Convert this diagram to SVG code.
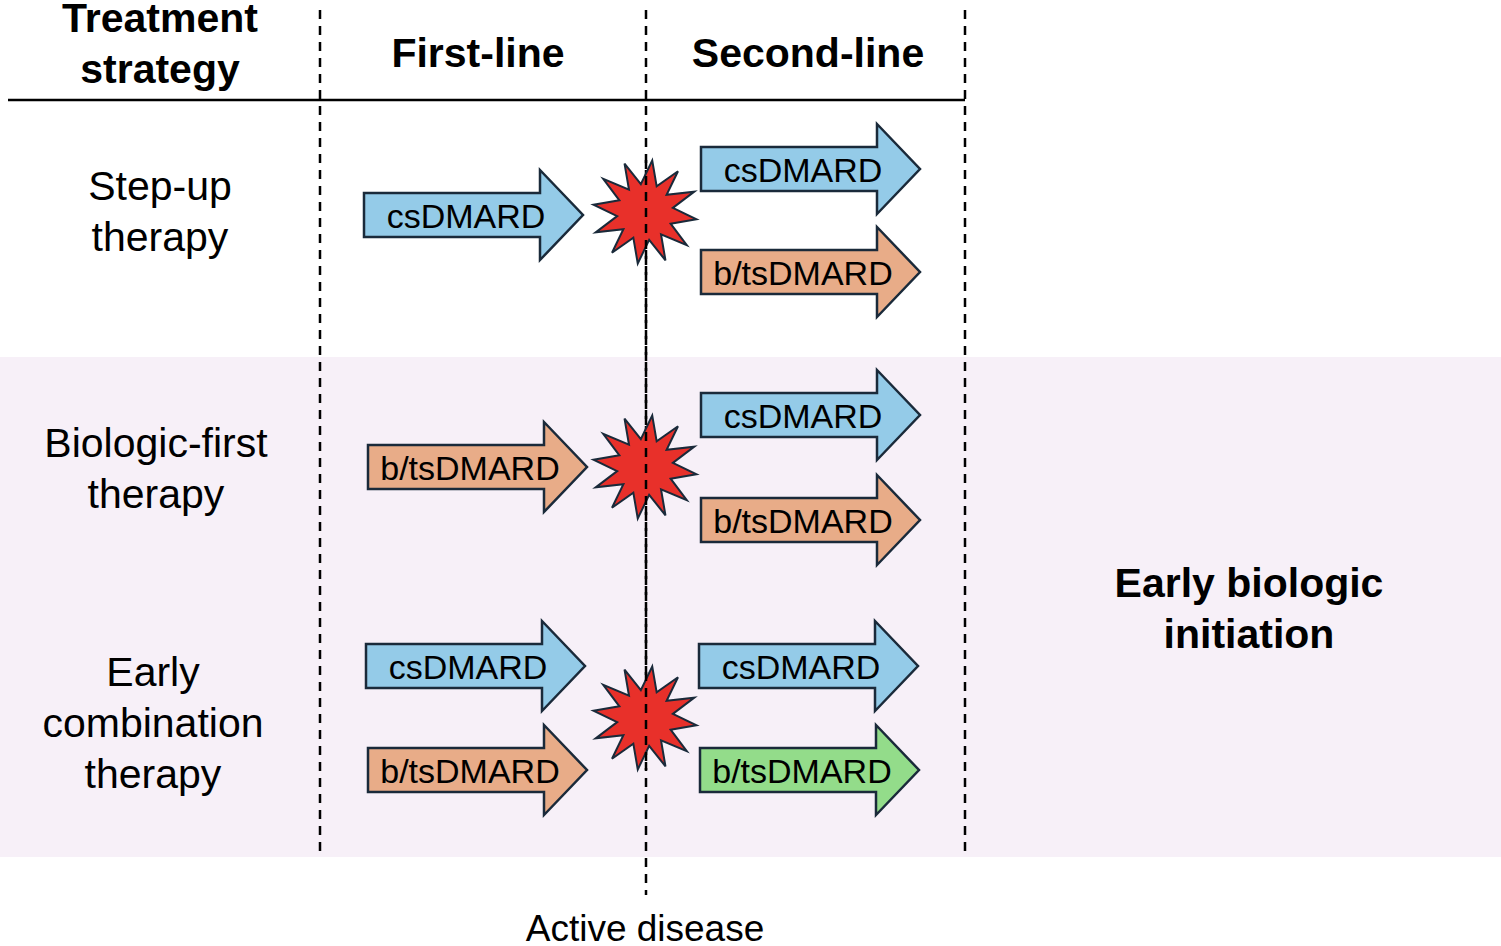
<svg xmlns="http://www.w3.org/2000/svg" width="1501" height="946" viewBox="0 0 1501 946">
<style>
.h{font-family:"Liberation Sans",Arial,sans-serif;font-weight:bold;font-size:41px;fill:#000;text-anchor:middle}
.r{font-family:"Liberation Sans",Arial,sans-serif;font-size:41px;fill:#000;text-anchor:middle}
.a{font-family:"Liberation Sans",Arial,sans-serif;font-size:34px;fill:#000;text-anchor:middle}
.dash{stroke:#000;stroke-width:2.5;stroke-dasharray:9,7;fill:none}
.blue{fill:#94cbe8;stroke:#1a2a3a;stroke-width:2.5;stroke-linejoin:miter}
.or{fill:#e8ac88;stroke:#1a2a3a;stroke-width:2.5}
.gr{fill:#93dc8a;stroke:#1a2a3a;stroke-width:2.5}
.st{fill:#e8302a;stroke:#1a2a3a;stroke-width:2}
</style>
<defs>
<path id="arr" d="M0,-22 H176 V-45 L219,0 L176,45 V22 H0 Z"/>
<polygon id="star" points="52,0 27,8 46,27 19,20 27,45 8,27 0,52 -8,27 -27,45 -19,20 -46,27 -27,8 -52,0 -27,-8 -46,-27 -19,-20 -27,-45 -8,-27 0,-52 8,-27 27,-45 19,-20 46,-27 27,-8" transform="rotate(8)"/>
</defs>
<rect x="0" y="0" width="1501" height="946" fill="#fff"/>
<rect x="0" y="357" width="1501" height="500" fill="#f7f0f8"/>
<g id="grid">
<line x1="8" y1="100" x2="965" y2="100" stroke="#000" stroke-width="2.5"/>
<line class="dash" x1="320" y1="10" x2="320" y2="857"/>
<line class="dash" x1="646" y1="10" x2="646" y2="895"/>
<line class="dash" x1="965" y1="10" x2="965" y2="857"/>
</g>
<g id="headers">
<text class="h" x="160" y="32">Treatment</text>
<text class="h" x="160" y="83">strategy</text>
<text class="h" x="478" y="67">First-line</text>
<text class="h" x="808" y="67">Second-line</text>
</g>
<g id="labels">
<text class="r" x="160" y="200">Step-up</text>
<text class="r" x="160" y="251">therapy</text>
<text class="r" x="156" y="457">Biologic-first</text>
<text class="r" x="156" y="508">therapy</text>
<text class="r" x="153" y="686">Early</text>
<text class="r" x="153" y="737">combination</text>
<text class="r" x="153" y="788">therapy</text>
<text class="h" x="1249" y="597">Early biologic</text>
<text class="h" x="1249" y="648">initiation</text>
<text class="r" x="645" y="941" style="font-size:37px">Active disease</text>
</g>
<g id="connectors">
<g id="a1"><use href="#arr" class="blue" transform="translate(364,215)"/><text class="a" x="466" y="228">csDMARD</text></g>
<g id="a2"><use href="#arr" class="blue" transform="translate(701,169)"/><text class="a" x="803" y="182">csDMARD</text></g>
<g id="a3"><use href="#arr" class="or" transform="translate(701,272)"/><text class="a" x="803" y="285">b/tsDMARD</text></g>
<g id="a4"><use href="#arr" class="or" transform="translate(368,467)"/><text class="a" x="470" y="480">b/tsDMARD</text></g>
<g id="a5"><use href="#arr" class="blue" transform="translate(701,415)"/><text class="a" x="803" y="428">csDMARD</text></g>
<g id="a6"><use href="#arr" class="or" transform="translate(701,520)"/><text class="a" x="803" y="533">b/tsDMARD</text></g>
<g id="a7"><use href="#arr" class="blue" transform="translate(366,666)"/><text class="a" x="468" y="679">csDMARD</text></g>
<g id="a8"><use href="#arr" class="or" transform="translate(368,770)"/><text class="a" x="470" y="783">b/tsDMARD</text></g>
<g id="a9"><use href="#arr" class="blue" transform="translate(699,666)"/><text class="a" x="801" y="679">csDMARD</text></g>
<g id="a10"><use href="#arr" class="gr" transform="translate(700,770)"/><text class="a" x="802" y="783">b/tsDMARD</text></g>
</g>
<g id="stars">
<use href="#star" class="st" transform="translate(645,212)"/>
<use href="#star" class="st" transform="translate(645,467)"/>
<use href="#star" class="st" transform="translate(645,718)"/>
</g>
<line class="dash" x1="646" y1="160" x2="646" y2="770"/>
</svg>
